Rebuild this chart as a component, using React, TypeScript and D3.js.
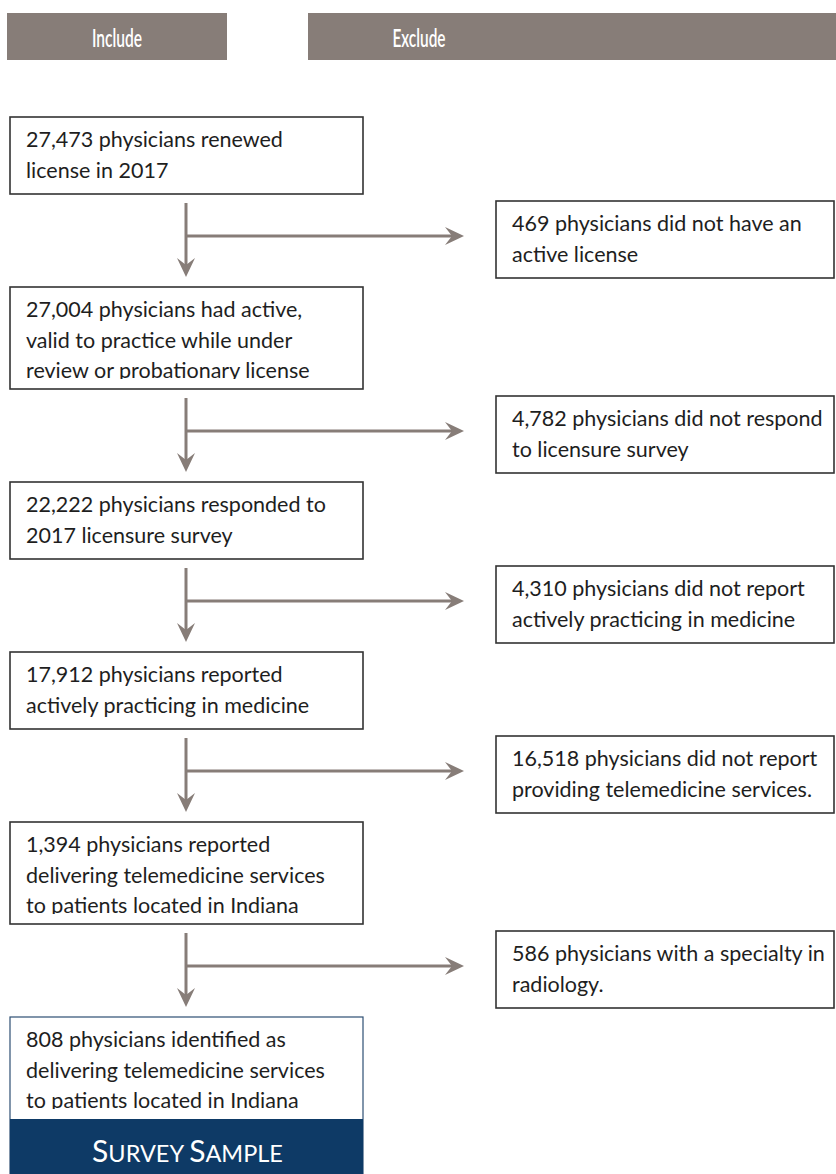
import React from "react";
import * as d3 from "d3";

const headerLabels: string[] = ["Include", "Exclude"];

const includeLines: string[][] = [
  ["27,473 physicians renewed", "license in 2017"],
  ["27,004 physicians had active,", "valid to practice while under", "review or probationary license"],
  ["22,222 physicians responded to", "2017 licensure survey"],
  ["17,912 physicians reported", "actively practicing in medicine"],
  ["1,394 physicians reported", "delivering telemedicine services", "to patients located in Indiana"],
  ["808 physicians identified as", "delivering telemedicine services", "to patients located in Indiana"],
];

const excludeLines: string[][] = [
  ["469 physicians did not have an", "active license"],
  ["4,782 physicians did not respond", "to licensure survey"],
  ["4,310 physicians did not report", "actively practicing in medicine"],
  ["16,518 physicians did not report", "providing telemedicine services."],
  ["586 physicians with a specialty in", "radiology."],
];

const sampleLabel = "Survey Sample";

const W = 836;
const H = 1174;
const GRAY = "#877d78";
const NAVY = "#0e3a66";
const FONT = "Lato, 'Noto Sans', sans-serif";
const FS = 21.5;

export default function App() {
  const firstTop = 117;
  const gap = 93;
  const lineH = 30.5;
  const boxH = (n: number) => (n === 2 ? 77 : 102);
  const tops: number[] = [];
  const bottoms: number[] = [];
  let y = firstTop;
  includeLines.forEach((lines) => {
    tops.push(y);
    const b = y + boxH(lines.length);
    bottoms.push(b);
    y = b + gap;
  });

  const xL = d3.scaleLinear().domain([0, 1]).range([10, 363]);
  const xR = d3.scaleLinear().domain([0, 1]).range([496, 834]);
  const arrowX = 186;
  const tipX = 464;

  const arrowHead = (x: number, y: number, dir: "down" | "right") => {
    const p = d3.path();
    if (dir === "down") {
      p.moveTo(x, y);
      p.lineTo(x - 9, y - 19);
      p.lineTo(x, y - 12);
      p.lineTo(x + 9, y - 19);
      p.closePath();
    } else {
      p.moveTo(x, y);
      p.lineTo(x - 19, y - 9);
      p.lineTo(x - 12, y);
      p.lineTo(x - 19, y + 9);
      p.closePath();
    }
    return p.toString();
  };

  const sampleWords = sampleLabel.toUpperCase().split(" ");
  const headerFont = "Lato, 'Noto Sans', sans-serif";

  return (
    <svg
      width={W}
      height={H}
      viewBox={`0 0 ${W} ${H}`}
      style={{ position: "absolute", left: 0, top: 0, background: "#fff" }}
    >
      <defs>
        {includeLines.map((lines, i) => (
          <clipPath id={`clipL${i}`} key={i}>
            <rect x={xL(0)} y={tops[i]} width={xL(1) - xL(0)} height={boxH(lines.length) - 10} />
          </clipPath>
        ))}
      </defs>

      {/* headers */}
      <rect x={7} y={13} width={220} height={47} fill={GRAY} />
      <rect x={308} y={13} width={540} height={47} fill={GRAY} />
      <text
        x={117}
        y={47}
        textAnchor="middle"
        fill="#fff"
        fontFamily={headerFont}
        fontWeight={600}
        fontSize={25}
        textLength={50}
        lengthAdjust="spacingAndGlyphs"
      >
        {headerLabels[0]}
      </text>
      <text
        x={419}
        y={47}
        textAnchor="middle"
        fill="#fff"
        fontFamily={headerFont}
        fontWeight={600}
        fontSize={25}
        textLength={53}
        lengthAdjust="spacingAndGlyphs"
      >
        {headerLabels[1]}
      </text>

      {/* include boxes */}
      {includeLines.map((lines, i) => {
        const last = i === includeLines.length - 1;
        return (
          <g key={`L${i}`}>
            <rect
              x={xL(0)}
              y={tops[i]}
              width={xL(1) - xL(0)}
              height={boxH(lines.length) + (last ? 60 : 0)}
              fill="#fff"
              stroke={last ? "#2d4f73" : "#333"}
              strokeWidth={last ? 1.2 : 1.6}
            />
            <g clipPath={`url(#clipL${i})`}>
              {lines.map((t, j) => (
                <text
                  key={j}
                  x={xL(0) + 16}
                  y={tops[i] + 30 + j * lineH}
                  fontFamily={FONT}
                  fontSize={FS}
                  fill="#1e1e1e"
                >
                  {t}
                </text>
              ))}
            </g>
            {last && (
              <g>
                <rect x={xL(0)} y={bottoms[i]} width={xL(1) - xL(0)} height={H - bottoms[i]} fill={NAVY} />
                <text
                  x={(xL(0) + xL(1)) / 2 + 1}
                  y={bottoms[i] + 43}
                  textAnchor="middle"
                  fill="#fff"
                  fontFamily={FONT}
                >
                  {sampleWords.map((w, k) => (
                    <React.Fragment key={k}>
                      <tspan fontSize={30}>{w[0]}</tspan>
                      <tspan fontSize={23.5}>{w.slice(1) + (k < sampleWords.length - 1 ? " " : "")}</tspan>
                    </React.Fragment>
                  ))}
                </text>
              </g>
            )}
          </g>
        );
      })}

      {/* arrows */}
      {excludeLines.map((_, i) => {
        const y0 = bottoms[i] + 9;
        const yh = bottoms[i] + 42;
        const yt = tops[i + 1] - 10;
        return (
          <g key={`A${i}`}>
            <line x1={arrowX} x2={arrowX} y1={y0} y2={yt - 8} stroke={GRAY} strokeWidth={3} />
            <path d={arrowHead(arrowX, yt, "down")} fill={GRAY} />
            <line x1={arrowX} x2={tipX - 8} y1={yh} y2={yh} stroke={GRAY} strokeWidth={3} />
            <path d={arrowHead(tipX, yh, "right")} fill={GRAY} />
          </g>
        );
      })}

      {/* exclude boxes */}
      {excludeLines.map((lines, i) => {
        const yh = bottoms[i] + 42;
        const top = yh - 35;
        return (
          <g key={`R${i}`}>
            <rect x={xR(0)} y={top} width={xR(1) - xR(0)} height={77} fill="#fff" stroke="#333" strokeWidth={1.6} />
            {lines.map((t, j) => (
              <text
                key={j}
                x={xR(0) + 16}
                y={top + 30 + j * lineH}
                fontFamily={FONT}
                fontSize={FS}
                fill="#1e1e1e"
              >
                {t}
              </text>
            ))}
          </g>
        );
      })}
    </svg>
  );
}
